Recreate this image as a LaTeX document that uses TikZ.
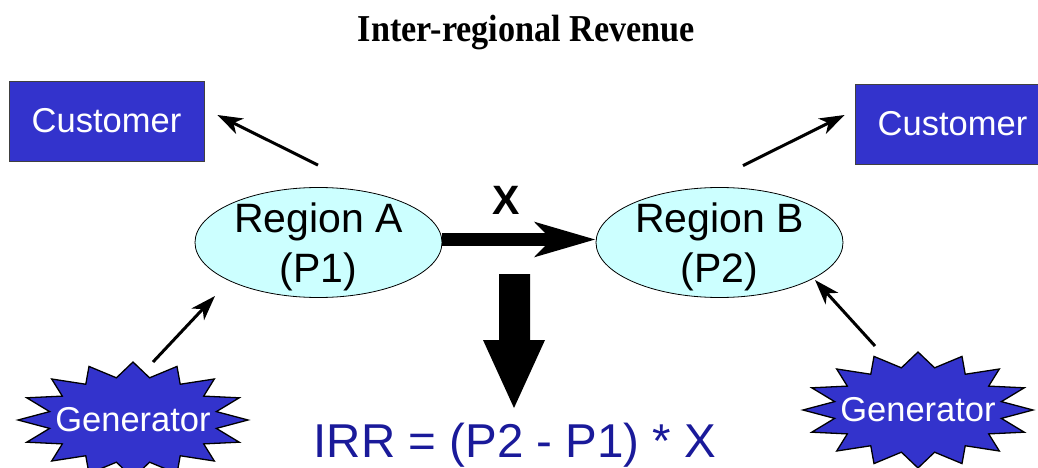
\documentclass[tikz,border=0pt]{standalone}
\usepackage{fontspec}
\setmainfont{Liberation Serif}
\setsansfont{Liberation Sans}
\usetikzlibrary{shapes.geometric,arrows.meta,calc}
\definecolor{boxblue}{RGB}{51,51,204}
\definecolor{regfill}{RGB}{204,255,255}
\definecolor{irrblue}{RGB}{26,26,154}
\tikzset{
  custbox/.style={rectangle, minimum width=195pt, minimum height=80pt, inner sep=0pt,
    fill=boxblue, draw=black!75, line width=0.8pt, text=white,
    font=\sffamily\fontsize{34.5}{40}\selectfont},
  regell/.style={ellipse, minimum width=247pt, minimum height=110pt, inner sep=-14pt,
    fill=regfill, draw=black, line width=0.8pt, align=center,
    font=\sffamily\fontsize{41}{50}\selectfont},
  burst/.style={fill=boxblue, draw=black, line width=1.3pt, line join=miter},
  gentext/.style={inner sep=0pt, text=white, font=\sffamily\fontsize{34.5}{40}\selectfont},
  thinarrow/.style={line width=3pt, -{Stealth[length=25pt,width=17pt,inset=7pt]}},
  fatarrow/.style={line width=13pt, -{Stealth[length=60pt,width=34pt,inset=16pt]}},
}
\newcommand\drawburst[1]{%
  \path[burst] ($(#1)+(0pt,58pt)$)
  \foreach \i [evaluate=\i as \a using {90+11.25*\i},
               evaluate=\i as \rx using {115-30*isodd(\i)},
               evaluate=\i as \ry using {58-15*isodd(\i)}] in {1,...,31}
  { -- ($(#1)+(\a:\rx pt and \ry pt)$) } -- cycle;}
\begin{document}
\begin{tikzpicture}[x=1pt,y=-1pt]
\useasboundingbox (0,0) rectangle (1038,468);
% title
\node[anchor=base, inner sep=0pt, font=\bfseries\fontsize{38}{40}\selectfont] (title) at (526.5,42)
  {\scalebox{0.9}[1]{Inter-regional Revenue}};
% customers
\node[custbox] (custL) at (106.5,121) {Customer};
\node[custbox] (custR) at (952.5,124) {Customer};
% regions
\node[regell] (regA) at (318.5,242.5) {\rule{0pt}{38pt}Region A\\(P1)};
\node[regell] (regB) at (719.5,242.5) {\rule{0pt}{38pt}Region B\\(P2)};
% generators
\coordinate (gL) at (133,420);
\coordinate (gR) at (918,410);
\drawburst{gL}
\drawburst{gR}
\node[gentext] (genL) at (gL) {Generator};
\node[gentext] (genR) at (gR) {Generator};
% arrows
\draw[thinarrow] ($(regA.north)+(-0.5,-22)$) -- ($(custL.east)+(13,-6)$);
\draw[thinarrow] ($(regB.north)+(23.5,-21.5)$) -- ($(custR.west)+(-10,-9)$);
\draw[thinarrow] ($(gL)+(20,-58)$) -- ($(regA.center)+(-103.5,53.5)$);
\draw[thinarrow] ($(gR)+(-43,-64)$) -- ($(regB.center)+(95.5,37.5)$);
\draw[fatarrow] ($(regA.east)+(0,-3)$) -- ($(regB.west)+(0,-3)$);
\node[inner sep=0pt, font=\sffamily\bfseries\fontsize{41}{44}\selectfont] (xlab) at (506.5,200) {X};
% big down arrow
\fill[black] (499,274) -- (530,274) -- (530,340) -- (545,340) -- (514,408) -- (483,340) -- (499,340) -- cycle;
% formula
\node[anchor=base, inner sep=0pt, text=irrblue, font=\sffamily\fontsize{47.5}{50}\selectfont] (irr) at (515,457)
  {IRR = (P2 - P1) * X};
\end{tikzpicture}
\end{document}
